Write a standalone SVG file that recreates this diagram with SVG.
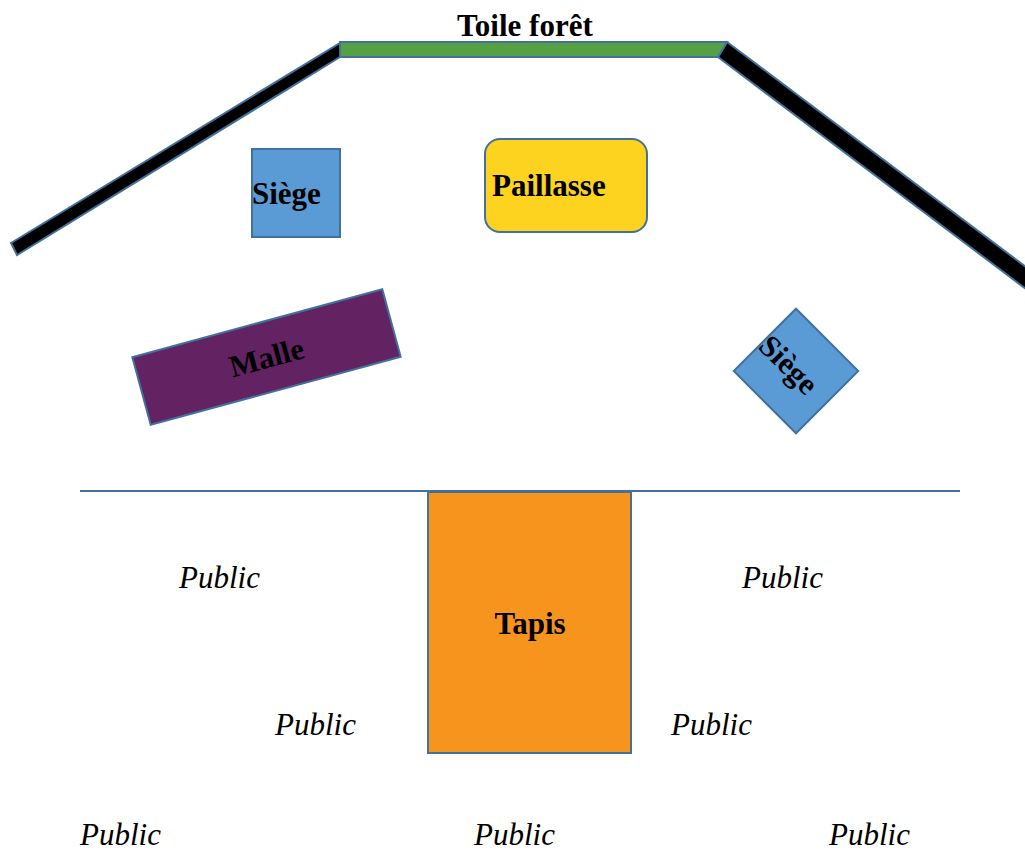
<svg xmlns="http://www.w3.org/2000/svg" width="1025" height="850" viewBox="0 0 1025 850">
<style>
.lbl{font-family:'Liberation Serif','Tinos','Times New Roman','DejaVu Serif',serif;font-weight:bold;font-size:31px;fill:#000}
.pub{font-family:'Liberation Serif','Tinos','Times New Roman','DejaVu Serif',serif;font-style:italic;font-size:31px;fill:#000}
.edge{stroke:#41719C;stroke-width:2}
</style>
<rect width="1025" height="850" fill="#fff"/>
<g id="decor">
<polygon id="roof-left" class="edge" fill="#000" points="11,243 340,43 340,57 17,255"/>
<polygon id="roof-right" class="edge" fill="#000" points="727,42 1030,270 1030,292 718,57"/>
<polygon id="toile" class="edge" fill="#56A044" points="340,42 727,42 718,57 340,57"/>
<line id="scene-edge" x1="80" y1="491" x2="960" y2="491" stroke="#41719C" stroke-width="2"/>
</g>
<g id="toile-label"><text class="lbl" x="457" y="36">Toile forêt</text></g>
<g id="siege1">
<rect class="edge" fill="#5B9BD5" x="252" y="149" width="88" height="88"/>
<text class="lbl" x="252" y="204">Siège</text>
</g>
<g id="paillasse">
<rect class="edge" fill="#FDD320" x="485" y="139" width="162" height="93" rx="15"/>
<text class="lbl" x="492" y="196">Paillasse</text>
</g>
<g id="malle" transform="rotate(-15.2 266.5 357)">
<rect class="edge" fill="#632262" x="137" y="322" width="259" height="70"/>
<text class="lbl" x="266.5" y="368" text-anchor="middle">Malle</text>
</g>
<g id="siege2" transform="rotate(45 796 371)">
<rect class="edge" fill="#5B9BD5" x="752" y="327" width="88" height="88"/>
<text class="lbl" x="752" y="382">Siège</text>
</g>
<g id="tapis">
<rect class="edge" fill="#F7941D" x="428" y="492" width="203" height="261"/>
<text class="lbl" x="530" y="634" text-anchor="middle">Tapis</text>
</g>
<g id="public">
<text class="pub" x="179" y="588">Public</text>
<text class="pub" x="742" y="588">Public</text>
<text class="pub" x="275" y="735">Public</text>
<text class="pub" x="671" y="735">Public</text>
<text class="pub" x="80" y="845">Public</text>
<text class="pub" x="474" y="845">Public</text>
<text class="pub" x="829" y="845">Public</text>
</g>
<g id="connectors"/>
</svg>
